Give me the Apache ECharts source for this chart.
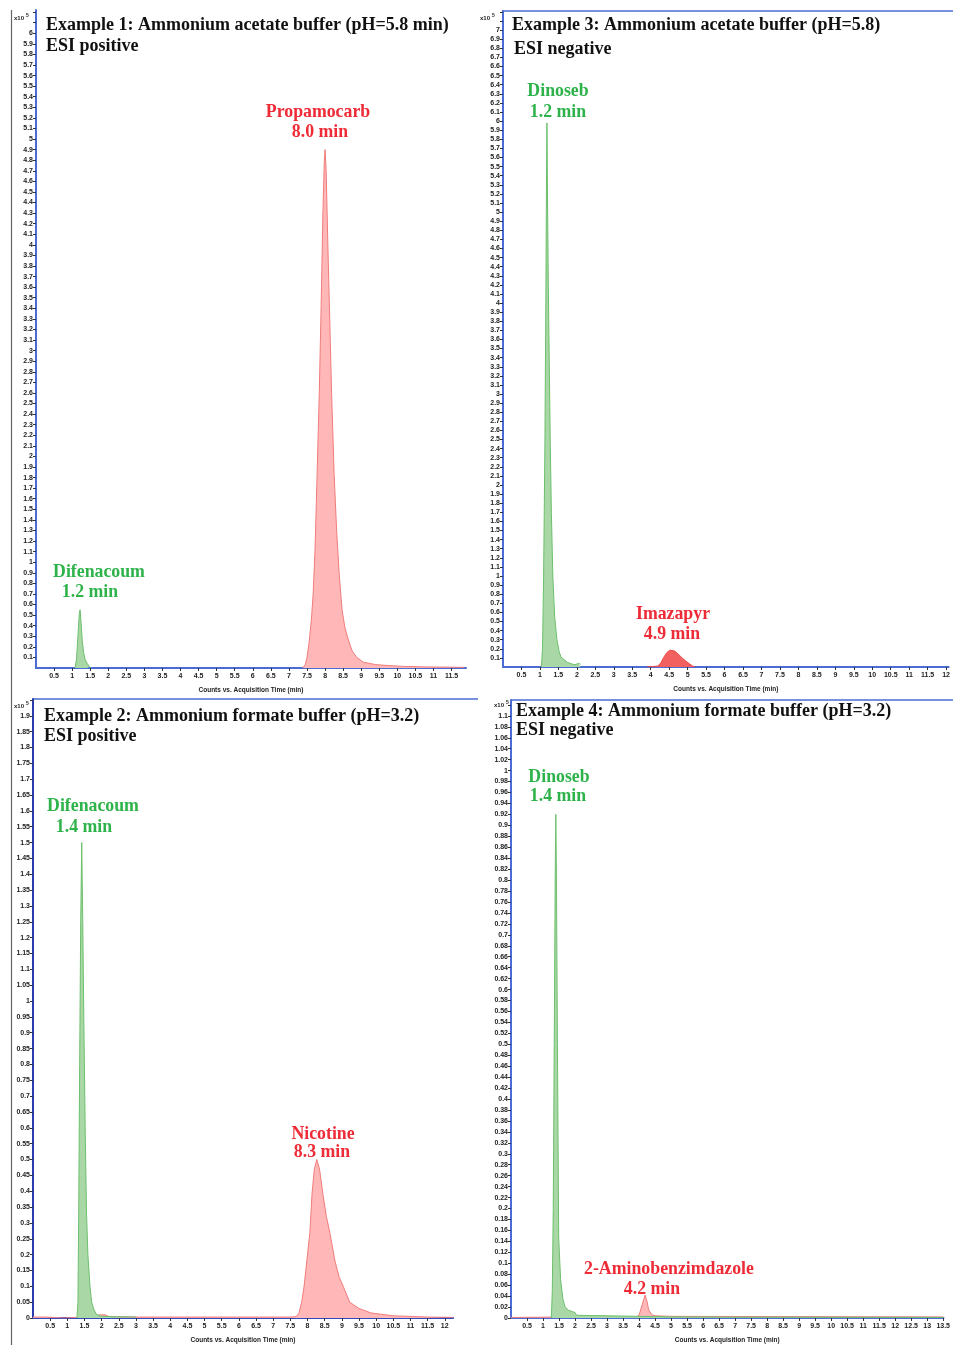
<!DOCTYPE html>
<html>
<head>
<meta charset="utf-8">
<script src="https://cdn.jsdelivr.net/npm/echarts@6/dist/echarts.min.js"></script>
<style>
html, body { margin: 0; padding: 0; background: #fff; }
#main { width: 953px; height: 1345px; }
</style>
</head>
<body>
<div id="main"></div>
<script>
// chromatograms, [time (min), counts x10^5]
// Example 1
var p1Green = [[1.08,0],[1.12,0.08],[1.16,0.3],[1.2,0.52],[1.22,0.55],[1.25,0.42],[1.28,0.26],[1.32,0.14],[1.36,0.08],[1.42,0.04],[1.48,0.015],[1.52,0]];
var p1Red = [[7.38,0],[7.45,0.03],[7.5,0.1],[7.56,0.25],[7.62,0.45],[7.67,0.7],[7.72,1.1],[7.78,1.84],[7.84,2.6],[7.89,3.41],[7.94,4.3],[7.98,4.8],[8.0,4.9],[8.03,4.7],[8.07,4.1],[8.12,3.41],[8.18,2.6],[8.25,1.84],[8.32,1.3],[8.39,0.89],[8.47,0.55],[8.55,0.38],[8.65,0.26],[8.75,0.16],[8.88,0.1],[9.0,0.07],[9.06,0.055],[9.08,0.04],[9.4,0.032],[9.8,0.022],[10.2,0.015],[10.8,0.01],[11.4,0.008],[11.85,0.006]];
// Example 3
var p3Green = [[1.04,0],[1.07,0.2],[1.1,0.99],[1.135,2.46],[1.16,4.0],[1.18,5.5],[1.19,5.98],[1.205,5.2],[1.23,4.1],[1.26,3.1],[1.28,2.46],[1.31,1.7],[1.35,0.99],[1.4,0.55],[1.46,0.3],[1.52,0.17],[1.57,0.11],[1.65,0.08],[1.75,0.05],[1.85,0.035],[1.95,0.025],[2.0,0.02],[2.05,0.04],[2.1,0.03]];
var p3Red = [[3.9,0],[3.95,0.01],[4.2,0.01],[4.28,0.05],[4.36,0.11],[4.44,0.16],[4.52,0.185],[4.57,0.19],[4.65,0.175],[4.75,0.14],[4.85,0.1],[4.95,0.065],[5.05,0.035],[5.13,0.012],[5.2,0]];
// Example 2
var p2Green = [[1.28,0],[1.31,0.05],[1.33,0.3],[1.36,0.8],[1.39,1.25],[1.42,1.5],[1.45,1.25],[1.48,0.95],[1.52,0.6],[1.56,0.33],[1.6,0.2],[1.66,0.1],[1.71,0.05],[1.78,0.025],[1.85,0.012],[1.95,0.006],[2.3,0.004],[3,0.003]];
var p2Red = [[0,0.003],[0.4,0.003],[0.42,0],[0.9,0],[0.92,0.003],[1.6,0.003],[1.65,0.015],[1.7,0.004],[1.95,0.01],[2.0,0.004],[2.1,0.01],[2.2,0.005],[3,0.003],[7.5,0.003],[7.66,0.004],[7.75,0.015],[7.83,0.05],[7.9,0.1],[7.98,0.18],[8.07,0.27],[8.13,0.39],[8.2,0.47],[8.27,0.5],[8.35,0.47],[8.45,0.39],[8.55,0.32],[8.65,0.27],[8.8,0.18],[8.92,0.13],[9.04,0.1],[9.23,0.05],[9.5,0.03],[9.85,0.016],[9.88,0.01],[10.5,0.007],[11,0.005],[11.5,0.003],[12.24,0.002]];
// Example 4
var p4Green = [[1.26,0],[1.29,0.05],[1.32,0.2],[1.35,0.5],[1.38,0.8],[1.4,0.92],[1.42,0.8],[1.45,0.5],[1.49,0.146],[1.55,0.07],[1.62,0.035],[1.69,0.02],[1.8,0.014],[1.9,0.012],[2.0,0.01],[2.05,0.005],[3,0.004],[4,0.003],[5,0.002],[7,0.0015],[13.5,0.001]];
var p4Red = [[0,0.001],[2.0,0.002],[3.9,0.002],[4.0,0.005],[4.1,0.025],[4.19,0.042],[4.25,0.03],[4.3,0.015],[4.4,0.006],[4.5,0.004],[5,0.003],[13.5,0.002]];

// axis ranges / tick steps per panel (order: ex1, ex3, ex2, ex4)
var xMax = [11.9, 12.07, 12.24, 13.51];
var yMax = [6.22, 7.21, 1.953, 1.129];
var yStep = [0.1, 0.1, 0.05, 0.02];
var yLabelTop = [6, 7, 1.9, 1.1];
var yShowZero = [false, false, true, true];

var titles = [
  ['Example 1: Ammonium acetate buffer (pH=5.8 min)', 'ESI positive'],
  ['Example 3: Ammonium acetate buffer (pH=5.8)', 'ESI negative'],
  ['Example 2: Ammonium formate buffer (pH=3.2)', 'ESI positive'],
  ['Example 4: Ammonium formate buffer (pH=3.2)', 'ESI negative']
];
var peakNames = [
  ['Difenacoum', '1.2 min', 'Propamocarb', '8.0 min'],
  ['Dinoseb', '1.2 min', 'Imazapyr', '4.9 min'],
  ['Difenacoum', '1.4 min', 'Nicotine', '8.3 min'],
  ['Dinoseb', '1.4 min', '2-Aminobenzimdazole', '4.2 min']
];

var grids = [
  {left: 36, top: 10, width: 430, height: 658},
  {left: 503, top: 11, width: 450, height: 656},
  {left: 33, top: 699, width: 420, height: 625},
  {left: 511, top: 700, width: 442, height: 626}
];

var AXIS_BLUE = '#4a6cd4';
var GREEN_TXT = '#2eb34a', RED_TXT = '#ee2b36';
var serif = 'bold 18px "Liberation Serif", "Times New Roman", serif';
var serifLbl = 'bold 17.8px "Liberation Serif", "Times New Roman", serif';

var xAxes = [], yAxes = [];
for (var i = 0; i < 4; i++) {
  (function (i) {
    xAxes.push({
      type: 'value', gridIndex: i, min: 0, max: xMax[i], interval: 0.5,
      name: 'Counts vs. Acquisition Time (min)', nameLocation: 'middle', nameGap: 19,
      nameTextStyle: {fontSize: 6.5, fontWeight: 'bold', color: '#222', fontFamily: 'Liberation Sans'},
      axisLine: {lineStyle: {color: i == 2 ? '#3048c0' : AXIS_BLUE, width: 2}},
      axisTick: {length: 3, lineStyle: {color: '#333'}},
      axisLabel: {fontSize: 7, fontWeight: 'bold', color: '#222', margin: 5, fontFamily: 'Liberation Sans',
        showMinLabel: false, showMaxLabel: false},
      splitLine: {show: false}
    });
    yAxes.push({
      type: 'value', gridIndex: i, min: 0, max: yMax[i], interval: yStep[i],
      axisLine: {show: true, lineStyle: {color: i == 2 ? '#2a3cb0' : AXIS_BLUE, width: 2}},
      axisTick: {show: true, length: 3, lineStyle: {color: '#333'}},
      axisLabel: {fontSize: 7, fontWeight: 'bold', color: '#222', margin: 3, fontFamily: 'Liberation Sans',
        showMinLabel: yShowZero[i], showMaxLabel: false,
        formatter: function (v) { return v > yLabelTop[i] + 1e-6 ? '' : String(parseFloat(v.toFixed(3))); }},
      splitLine: {show: false}
    });
  })(i);
}

function trace(data, idx, line, fill, z) {
  return {
    type: 'line', xAxisIndex: idx, yAxisIndex: idx, data: data, symbol: 'none',
    lineStyle: {color: line, width: 1}, areaStyle: {color: fill, opacity: 1},
    z: z, silent: true, animation: false
  };
}

var series = [
  trace(p1Green, 0, '#6cbf6c', '#a9d8a6', 3),
  trace(p1Red, 0, '#f07c7c', '#ffb7b7', 2),
  trace(p3Green, 1, '#6cbf6c', '#a9d8a6', 3),
  trace(p3Red, 1, '#ec4a4a', '#f26060', 2),
  trace(p2Green, 2, '#6cbf6c', '#a9d8a6', 3),
  trace(p2Red, 2, '#f07c7c', '#ffb7b7', 2),
  trace(p4Green, 3, '#6cbf6c', '#a9d8a6', 3),
  trace(p4Red, 3, '#f07c7c', '#ffb7b7', 2)
];

function txt(x, y, s, font, fill, align) {
  return {type: 'text', x: x, y: y, silent: true,
    style: {text: s, font: font, fill: fill, textAlign: align || 'left', textVerticalAlign: 'middle'}};
}
function line(x1, y1, x2, y2, c, w) {
  return {type: 'line', silent: true, shape: {x1: x1, y1: y1, x2: x2, y2: y2}, style: {stroke: c, lineWidth: w}};
}

// text placements
var titlePos = [[46, 25, 46, 46], [512, 25, 514, 49], [44, 716, 44, 736], [516, 711, 516, 730]];
var namePos = [
  [99, 572, 90, 592, 318, 112, 320, 132],
  [558, 91, 558, 112, 673, 614, 672, 634],
  [93, 806, 84, 827, 323, 1134, 322, 1152],
  [559, 777, 558, 796, 669, 1269, 652, 1289]
];
var expPos = [[14, 18], [480, 18], [14, 706], [494, 705]];

var graphics = [line(11.5, 10, 11.5, 1345, '#666', 1.2),
  line(502, 11, 953, 11, AXIS_BLUE, 1.5),
  line(33, 699, 478, 699, AXIS_BLUE, 1.5),
  line(511, 700, 953, 700, AXIS_BLUE, 1.5)];
for (var k = 0; k < 4; k++) {
  var tp = titlePos[k], np = namePos[k], pn = peakNames[k];
  graphics.push(txt(tp[0], tp[1], titles[k][0], serif, '#111'));
  graphics.push(txt(tp[2], tp[3], titles[k][1], serif, '#111'));
  graphics.push(txt(np[0], np[1], pn[0], serifLbl, GREEN_TXT, 'center'));
  graphics.push(txt(np[2], np[3], pn[1], serifLbl, GREEN_TXT, 'center'));
  graphics.push(txt(np[4], np[5], pn[2], serifLbl, RED_TXT, 'center'));
  graphics.push(txt(np[6], np[7], pn[3], serifLbl, RED_TXT, 'center'));
  graphics.push(txt(expPos[k][0], expPos[k][1], 'x10', 'bold 6px "Liberation Sans"', '#222'));
  graphics.push(txt(expPos[k][0] + 12, expPos[k][1] - 2, '5', 'bold 5px "Liberation Sans"', '#222'));
}

var chart = echarts.init(document.getElementById('main'));
chart.setOption({
  animation: false,
  backgroundColor: '#fff',
  grid: grids,
  xAxis: xAxes,
  yAxis: yAxes,
  series: series,
  graphic: graphics
});
</script>
</body>
</html>
